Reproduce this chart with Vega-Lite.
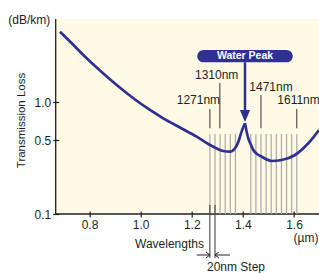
{
  "$schema": "https://vega.github.io/schema/vega-lite/v6.json",
  "width": 263.3,
  "height": 195,
  "autosize": {"type": "none"},
  "padding": {"left": 55.7, "top": 19, "right": 0, "bottom": 59},
  "background": "white",
  "config": {"view": {"fill": "#FFFAE6", "stroke": null}, "font": "Liberation Sans"},
  "datasets": {
    "frame": [
      {"w": 0.6678, "w2": 0.6678, "v": 0.1, "v2": 3.72},
      {"w": 0.6678, "w2": 1.6979, "v": 0.1, "v2": 0.1}
    ],
    "channels": [
      {"w": 1.271}, {"w": 1.291}, {"w": 1.311}, {"w": 1.331}, {"w": 1.351}, {"w": 1.371},
      {"w": 1.431}, {"w": 1.451}, {"w": 1.471}, {"w": 1.491}, {"w": 1.511}, {"w": 1.531},
      {"w": 1.551}, {"w": 1.571}, {"w": 1.591}, {"w": 1.611}
    ],
    "blackLines": [
      {"w": 1.271, "v": 0.8891, "v2": 0.6256},
      {"w": 1.310, "v": 1.389, "v2": 0.6256},
      {"w": 1.471, "v": 1.1347, "v2": 0.6256},
      {"w": 1.611, "v": 0.8891, "v2": 0.6256},
      {"w": 1.271, "v": 0.12437, "v2": 0.03066},
      {"w": 1.291, "v": 0.12437, "v2": 0.03066}
    ],
    "curve": [
      {"b": "L", "w": 0.6846, "v": 3.095},
      {"b": "L", "w": 0.7315, "v": 2.5956},
      {"b": "L", "w": 0.7757, "v": 2.1768},
      {"b": "L", "w": 0.8411, "v": 1.7037},
      {"b": "L", "w": 0.9064, "v": 1.3435},
      {"b": "L", "w": 0.9702, "v": 1.0778},
      {"b": "L", "w": 1.0367, "v": 0.8735},
      {"b": "L", "w": 1.0887, "v": 0.7523},
      {"b": "L", "w": 1.1541, "v": 0.635},
      {"b": "L", "w": 1.2194, "v": 0.5336},
      {"b": "L", "w": 1.2844, "v": 0.4394},
      {"b": "L", "w": 1.3235, "v": 0.4034},
      {"b": "L", "w": 1.3497, "v": 0.3978},
      {"b": "L", "w": 1.3693, "v": 0.4257},
      {"b": "L", "w": 1.3822, "v": 0.4817},
      {"b": "L", "w": 1.3908, "v": 0.5513},
      {"b": "L", "w": 1.3986, "v": 0.6175},
      {"b": "L", "w": 1.4084, "v": 0.6865},
      {"b": "R", "w": 1.4084, "v": 0.6865},
      {"b": "R", "w": 1.4142, "v": 0.5947},
      {"b": "R", "w": 1.4213, "v": 0.5175},
      {"b": "R", "w": 1.4318, "v": 0.4543},
      {"b": "R", "w": 1.4408, "v": 0.4115},
      {"b": "R", "w": 1.4553, "v": 0.3798},
      {"b": "R", "w": 1.4737, "v": 0.3596},
      {"b": "R", "w": 1.5128, "v": 0.3293},
      {"b": "R", "w": 1.552, "v": 0.3362},
      {"b": "R", "w": 1.604, "v": 0.3723},
      {"b": "R", "w": 1.656, "v": 0.4697},
      {"b": "R", "w": 1.6979, "v": 0.606}
    ],
    "labels": [
      {"t": "1271nm", "w": 1.1412, "v": 1.0412},
      {"t": "1310nm", "w": 1.2128, "v": 1.5842},
      {"t": "1471nm", "w": 1.4252, "v": 1.3059},
      {"t": "1611nm", "w": 1.5347, "v": 1.0412},
      {"t": "20nm Step", "w": 1.2597, "v": 0.0234},
      {"t": "(µm)", "w": 1.5982, "v": 0.05387},
      {"t": "(dB/km)", "w": 0.4823, "v": 3.668}
    ],
    "peakBox": [{"w": 1.2218, "w2": 1.595, "v": 2.3512, "v2": 1.9416}],
    "peakText": [{"t": "Water Peak", "w": 1.4084, "v": 2.1432}],
    "peakArrow": [{"w": 1.4084, "v": 1.9416, "v2": 0.8429}],
    "peakHead": [{"w": 1.4084, "v": 0.7844}],
    "stepArrows": [
      {"w": 1.2194, "w2": 1.271, "v": 0.03348},
      {"w": 1.291, "w2": 1.3497, "v": 0.03348}
    ],
    "chevrons": [
      {"w": 1.271, "v": 0.03348, "d": "r"},
      {"w": 1.291, "v": 0.03348, "d": "l"}
    ]
  },
  "layer": [
    {
      "data": {"name": "frame"},
      "mark": {"type": "rule", "color": "#231F20", "strokeWidth": 1.3},
      "encoding": {
        "x": {
          "field": "w", "type": "quantitative",
          "scale": {"domain": [0.6678, 1.6979], "nice": false, "zero": false},
          "axis": {
            "title": "Wavelengths",
            "values": [0.8, 0.9, 1.0, 1.1, 1.2, 1.3, 1.4, 1.5, 1.6],
            "labelExpr": "round(datum.value*10) % 2 == 0 ? format(datum.value, '.1f') : ''",
            "grid": false, "domain": false, "offset": -3,
            "tickSize": 6, "tickColor": "#231F20", "tickWidth": 1.2,
            "labelFontSize": 12, "labelColor": "#231F20", "labelPadding": 2,
            "labelOverlap": false, "labelFlush": false,
            "labelFont": "Liberation Sans", "titleFont": "Liberation Sans",
            "titleFontSize": 12, "titleFontWeight": "normal", "titleColor": "#231F20",
            "titleX": 113.3, "titleY": 32, "titleBaseline": "middle", "titleAlign": "center"
          }
        },
        "x2": {"field": "w2"},
        "y": {
          "field": "v", "type": "quantitative",
          "scale": {"type": "pow", "exponent": 0.15, "domain": [0.1, 3.72], "nice": false, "zero": false},
          "axis": {
            "title": "Transmission Loss",
            "values": [0.1, 0.5, 1.0],
            "format": ".1f",
            "grid": false, "domain": false, "offset": -3,
            "tickSize": 6, "tickColor": "#231F20", "tickWidth": 1.2,
            "labelFontSize": 12, "labelColor": "#231F20", "labelPadding": 2,
            "labelOverlap": false, "labelFlush": false,
            "labelFont": "Liberation Sans", "titleFont": "Liberation Sans",
            "titleFontSize": 11.5, "titleFontWeight": "normal", "titleColor": "#231F20",
            "titleX": -37.7, "titleY": 101, "titleBaseline": "middle", "titleAlign": "center", "titleAngle": -90
          }
        },
        "y2": {"field": "v2"}
      }
    },
    {
      "data": {"name": "channels"},
      "mark": {"type": "rule", "color": "#A9A9A9", "strokeWidth": 1.2},
      "encoding": {
        "x": {"field": "w", "type": "quantitative"},
        "y": {"datum": 0.5618, "type": "quantitative"},
        "y2": {"datum": 0.1}
      }
    },
    {
      "data": {"name": "blackLines"},
      "mark": {"type": "rule", "color": "#333333", "strokeWidth": 1},
      "encoding": {
        "x": {"field": "w", "type": "quantitative"},
        "y": {"field": "v", "type": "quantitative"},
        "y2": {"field": "v2"}
      }
    },
    {
      "data": {"name": "curve"},
      "mark": {"type": "line", "interpolate": "monotone", "color": "#2E3192", "strokeWidth": 2.7, "clip": true},
      "encoding": {
        "x": {"field": "w", "type": "quantitative"},
        "y": {"field": "v", "type": "quantitative"},
        "detail": {"field": "b", "type": "nominal"}
      }
    },
    {
      "data": {"name": "labels"},
      "mark": {"type": "text", "align": "left", "baseline": "middle", "fontSize": 12, "color": "#231F20", "font": "Liberation Sans"},
      "encoding": {
        "x": {"field": "w", "type": "quantitative"},
        "y": {"field": "v", "type": "quantitative"},
        "text": {"field": "t"}
      }
    },
    {
      "data": {"name": "peakBox"},
      "mark": {"type": "rect", "cornerRadius": 6.2, "color": "#2E3192"},
      "encoding": {
        "x": {"field": "w", "type": "quantitative"},
        "x2": {"field": "w2"},
        "y": {"field": "v", "type": "quantitative"},
        "y2": {"field": "v2"}
      }
    },
    {
      "data": {"name": "peakText"},
      "mark": {"type": "text", "align": "center", "baseline": "middle", "fontSize": 10.5, "fontWeight": "bold", "color": "white", "font": "Liberation Sans"},
      "encoding": {
        "x": {"field": "w", "type": "quantitative"},
        "y": {"field": "v", "type": "quantitative"},
        "text": {"field": "t"}
      }
    },
    {
      "data": {"name": "peakArrow"},
      "mark": {"type": "rule", "color": "#2E3192", "strokeWidth": 2.5},
      "encoding": {
        "x": {"field": "w", "type": "quantitative"},
        "y": {"field": "v", "type": "quantitative"},
        "y2": {"field": "v2"}
      }
    },
    {
      "data": {"name": "peakHead"},
      "mark": {"type": "point", "shape": "M-0.85,-1L0.85,-1L0,1Z", "size": 144, "filled": true, "opacity": 1, "color": "#2E3192", "strokeWidth": 0},
      "encoding": {
        "x": {"field": "w", "type": "quantitative"},
        "y": {"field": "v", "type": "quantitative"}
      }
    },
    {
      "data": {"name": "stepArrows"},
      "mark": {"type": "rule", "color": "#231F20", "strokeWidth": 1},
      "encoding": {
        "x": {"field": "w", "type": "quantitative"},
        "x2": {"field": "w2"},
        "y": {"field": "v", "type": "quantitative"}
      }
    },
    {
      "data": {"name": "chevrons"},
      "mark": {"type": "point", "size": 36, "filled": false, "opacity": 1, "color": "#231F20", "strokeWidth": 1},
      "encoding": {
        "x": {"field": "w", "type": "quantitative"},
        "y": {"field": "v", "type": "quantitative"},
        "shape": {"field": "d", "type": "nominal", "scale": {"domain": ["r", "l"], "range": ["M-1.3,-1L0,0L-1.3,1", "M1.3,-1L0,0L1.3,1"]}, "legend": null}
      }
    }
  ]
}
